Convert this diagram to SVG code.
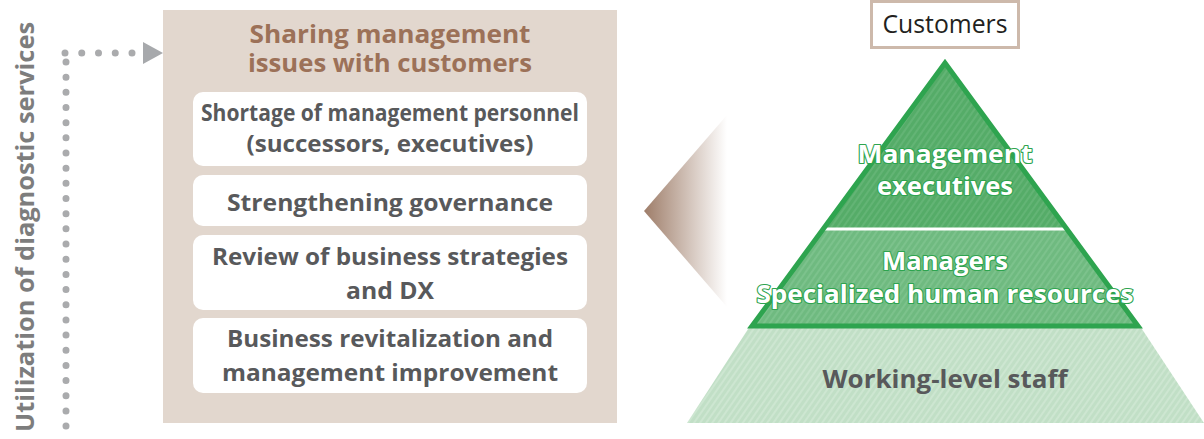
<svg xmlns="http://www.w3.org/2000/svg" width="1204" height="439" viewBox="0 0 1204 439">
<style>
.t{font-family:"Open Sans","Liberation Sans",sans-serif;text-anchor:middle}
.b{font-weight:700}
.box{fill:#ffffff}
.item{font-size:23px;fill:#58595b}
.title{font-size:24.5px;fill:#9c7158}
.pyr{font-size:25px;fill:#ffffff;stroke:#2ea44f;stroke-width:2.2px;paint-order:stroke;stroke-linejoin:round}
.dots{stroke:#aaabad;stroke-width:7;stroke-linecap:round;fill:none}
</style>
<defs>
<pattern id="stripeTop" patternUnits="userSpaceOnUse" width="5" height="5" patternTransform="rotate(35)">
<rect width="5" height="5" fill="#55ac68"/><rect width="2" height="5" fill="#63b475"/>
</pattern>
<pattern id="stripeMid" patternUnits="userSpaceOnUse" width="5" height="5" patternTransform="rotate(35)">
<rect width="5" height="5" fill="#6fba80"/><rect width="2" height="5" fill="#7cc28c"/>
</pattern>
<pattern id="stripeLow" patternUnits="userSpaceOnUse" width="5" height="5" patternTransform="rotate(35)">
<rect width="5" height="5" fill="#c1dfc6"/><rect width="2" height="5" fill="#cde6d1"/>
</pattern>
<linearGradient id="fade" x1="644" y1="0" x2="727" y2="0" gradientUnits="userSpaceOnUse">
<stop offset="0" stop-color="#9e7d69"/><stop offset="1" stop-color="#ffffff"/>
</linearGradient>
</defs>

<g id="label-diagnostic">
<text class="t b" transform="translate(34,227) rotate(-90)" font-size="25" fill="#7d7d7d" textLength="410" lengthAdjust="spacingAndGlyphs">Utilization of diagnostic services</text>
</g>

<g id="connectors">
<path class="dots" d="M66,62 V427" stroke-dasharray="0 15.17"/>
<path class="dots" d="M65,53 H133" stroke-dasharray="0 16.75"/>
<polygon points="143,42 163,53 143,64" fill="#a7a9ac"/>
</g>

<g id="panel-issues">
<rect x="163" y="10" width="454" height="413" fill="#e2d7ce"/>
<text class="t b title" x="390" y="43" textLength="281" lengthAdjust="spacingAndGlyphs">Sharing management</text>
<text class="t b title" x="390" y="72" textLength="284" lengthAdjust="spacingAndGlyphs">issues with customers</text>
</g>

<g id="issue-1">
<rect class="box" x="193" y="92" width="394" height="74" rx="10"/>
<text class="t b item" x="390" y="121" textLength="378" lengthAdjust="spacingAndGlyphs">Shortage of management personnel</text>
<text class="t b item" x="390" y="152" textLength="287" lengthAdjust="spacingAndGlyphs">(successors, executives)</text>
</g>
<g id="issue-2">
<rect class="box" x="193" y="175" width="394" height="51" rx="10"/>
<text class="t b item" x="390" y="211" textLength="326" lengthAdjust="spacingAndGlyphs">Strengthening governance</text>
</g>
<g id="issue-3">
<rect class="box" x="193" y="235" width="394" height="75" rx="10"/>
<text class="t b item" x="390" y="265" textLength="356" lengthAdjust="spacingAndGlyphs">Review of business strategies</text>
<text class="t b item" x="390" y="299" textLength="88" lengthAdjust="spacingAndGlyphs">and DX</text>
</g>
<g id="issue-4">
<rect class="box" x="193" y="318" width="394" height="75" rx="10"/>
<text class="t b item" x="390" y="347" textLength="326" lengthAdjust="spacingAndGlyphs">Business revitalization and</text>
<text class="t b item" x="390" y="381" textLength="336" lengthAdjust="spacingAndGlyphs">management improvement</text>
</g>

<g id="pointer">
<polygon points="644,211 727,115 727,307" fill="url(#fade)"/>
</g>

<g id="customers">
<rect x="871.5" y="1.5" width="147" height="46" fill="#ffffff" stroke="#cdb9ab" stroke-width="3"/>
<text class="t" x="945" y="33" font-size="25" fill="#231f20" textLength="125" lengthAdjust="spacingAndGlyphs">Customers</text>
</g>

<g id="working-level">
<polygon points="750,326 1140,326 1204,423 687,423" fill="url(#stripeLow)"/>
<text class="t b" x="945" y="388" font-size="25" fill="#58595b" textLength="245" lengthAdjust="spacingAndGlyphs">Working-level staff</text>
</g>

<g id="managers">
<polygon points="823,229 1067,229 1138,326 752,326" fill="url(#stripeMid)"/>
</g>
<g id="executives">
<polygon points="945,63 823,229 1067,229" fill="url(#stripeTop)"/>
</g>
<g id="pyramid-outline">
<line x1="824" y1="229" x2="1066" y2="229" stroke="#ffffff" stroke-width="3"/>
<polygon points="945,63 752,326 1138,326" fill="none" stroke="#2ea44f" stroke-width="5"/>
</g>
<g id="executives-label">
<text class="t b pyr" x="945" y="163" textLength="175" lengthAdjust="spacingAndGlyphs">Management</text>
<text class="t b pyr" x="945" y="195" textLength="136" lengthAdjust="spacingAndGlyphs">executives</text>
</g>
<g id="managers-label">
<text class="t b pyr" x="945" y="270" textLength="126" lengthAdjust="spacingAndGlyphs">Managers</text>
<text class="t b pyr" x="945" y="303" textLength="377" lengthAdjust="spacingAndGlyphs">Specialized human resources</text>
</g>
</svg>
